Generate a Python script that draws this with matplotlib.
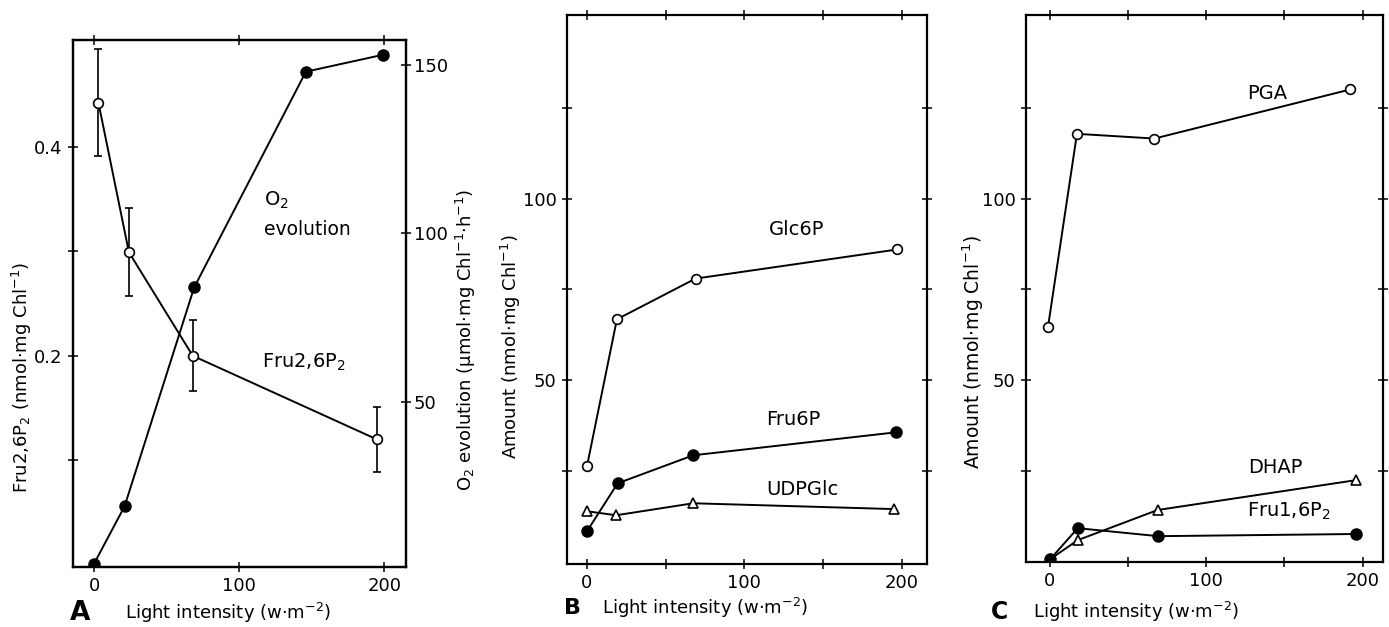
import matplotlib
matplotlib.use("Agg")
import matplotlib.pyplot as plt

# panel A
x_fru26 = [3, 24, 68, 195]
fru26 = [0.442, 0.299, 0.200, 0.120]
fru26_err = [0.051, 0.042, 0.034, 0.031]
x_o2 = [0, 21, 69, 146, 199]
o2 = [2, 19, 84, 148, 153]

# panel B
x_glc6p = [0, 19, 69, 197]
glc6p = [26.4, 66.8, 78, 86]
x_fru6p = [0, 19.5, 67.5, 196]
fru6p = [8.5, 21.7, 29.4, 35.7]
x_udpglc = [0, 18.5, 67.5, 195]
udpglc = [14, 12.9, 16.2, 14.6]

# panel C
x_pga = [-1, 17.5, 67, 192]
pga = [64.6, 117.8, 116.5, 130]
x_dhap = [0.5, 18, 69, 195.5]
dhap = [0.8, 6, 14.3, 22.5]
x_fru16 = [0.5, 18, 69.5, 196]
fru16 = [0.8, 9.3, 7.1, 7.7]

plt.rcParams['font.family'] = 'DejaVu Sans'
plt.rcParams['mathtext.fontset'] = 'dejavusans'

fig = plt.figure(figsize=(13.89, 6.27), dpi=100)

axA = fig.add_axes([0.0526, 0.0957, 0.2397, 0.8405])
axB = fig.add_axes([0.4082, 0.1005, 0.2592, 0.8756])
axC = fig.add_axes([0.7387, 0.1037, 0.2570, 0.8724])

open_c = dict(marker='o', ms=7, mfc='white', mec='black', mew=1.2)
fill_c = dict(marker='o', ms=8, mfc='black', mec='black')
tri = dict(marker='^', ms=7, mfc='white', mec='black', mew=1.2)
line = dict(color='black', lw=1.4)


def style(ax):
    for s in ax.spines.values():
        s.set_linewidth(1.6)
    ax.tick_params(which='both', direction='inout', length=7, width=1.1,
                   labelsize=13, top=True, pad=4)


# ---- A ----
axA2 = axA.twinx()
axA.errorbar(x_fru26, fru26, yerr=fru26_err, capsize=3, elinewidth=1.2,
             capthick=1.2, zorder=3, **line, **open_c)
axA2.plot(x_o2, o2, zorder=3, **line, **fill_c)
axA.set_xlim(-14.5, 215)
axA.set_ylim(-0.002, 0.502)
axA2.set_ylim(1, 157.4)
axA.set_xticks([0, 100, 200])
axA.set_yticks([0.1, 0.2, 0.3, 0.4])
axA.set_yticklabels(['', '0.2', '', '0.4'])
axA2.set_yticks([50, 100, 150])
style(axA)
style(axA2)
axA2.tick_params(pad=2)
axA.set_ylabel(r"Fru2,6P$_2$ (nmol$\cdot$mg Chl$^{-1}$)", fontsize=13)
axA.yaxis.set_label_coords(-0.118, 0.36)
axA2.set_ylabel(r"O$_2$ evolution (μmol$\cdot$mg Chl$^{-1}$$\cdot$h$^{-1}$)", fontsize=13)
axA2.yaxis.set_label_coords(1.145, 0.431)
axA.text(117, 0.349, r"O$_2$", fontsize=14, va='center')
axA.text(117, 0.321, "evolution", fontsize=13.5, va='center')
axA.text(116, 0.194, r"Fru2,6P$_2$", fontsize=14, va='center')

# ---- B ----
axB.plot(x_glc6p, glc6p, zorder=3, **line, **open_c)
axB.plot(x_udpglc, udpglc, zorder=3, **line, **tri)
axB.plot(x_fru6p, fru6p, zorder=4, **line, **fill_c)
axB.set_xlim(-12.7, 216)
axB.set_ylim(-0.5, 150.5)
style(axB)
axB.tick_params(right=True)
axB.set_xticks([0, 50, 100, 150, 200])
axB.set_xticklabels(['0', '', '100', '', '200'])
axB.set_yticks([25, 50, 75, 100, 125])
axB.set_yticklabels(['', '50', '', '100', ''])
axB.set_ylabel(r"Amount (nmol$\cdot$mg Chl$^{-1}$)", fontsize=13)
axB.yaxis.set_label_coords(-0.122, 0.395)
axB.text(133, 91.5, "Glc6P", fontsize=14, ha='center', va='center')
axB.text(131, 39.3, "Fru6P", fontsize=14, ha='center', va='center')
axB.text(137, 20, "UDPGlc", fontsize=14, ha='center', va='center')

# ---- C ----
axC.plot(x_pga, pga, zorder=3, **line, **open_c)
axC.plot(x_dhap, dhap, zorder=3, **line, **tri)
axC.plot(x_fru16, fru16, zorder=4, **line, **fill_c)
axC.set_xlim(-15, 213)
axC.set_ylim(0, 150.5)
style(axC)
axC.tick_params(right=True)
axC.set_xticks([0, 50, 100, 150, 200])
axC.set_xticklabels(['0', '', '100', '', '200'])
axC.set_yticks([25, 50, 75, 100, 125])
axC.set_yticklabels(['', '50', '', '100', ''])
axC.set_ylabel(r"Amount (nmol$\cdot$mg Chl$^{-1}$)", fontsize=13.5)
axC.yaxis.set_label_coords(-0.112, 0.384)
axC.text(139, 129, "PGA", fontsize=14, ha='center', va='center')
axC.text(144, 26, "DHAP", fontsize=14, ha='center', va='center')
axC.text(153, 14, r"Fru1,6P$_2$", fontsize=14, ha='center', va='center')

# panel letters and x labels
xl = r"Light intensity (w$\cdot$m$^{-2}$)"
fig.text(80 / 1389, 1 - 613 / 627, "A", fontsize=19, fontweight='bold', ha='center', va='center')
fig.text(125 / 1389, 1 - 613 / 627, xl, fontsize=13, va='center')
fig.text(573 / 1389, 1 - 608 / 627, "B", fontsize=16, fontweight='bold', ha='center', va='center')
fig.text(602 / 1389, 1 - 608 / 627, xl, fontsize=13, va='center')
fig.text(1000 / 1389, 1 - 612 / 627, "C", fontsize=17, fontweight='bold', ha='center', va='center')
fig.text(1033 / 1389, 1 - 612 / 627, xl, fontsize=13, va='center')

fig.savefig("out.png", dpi=100)
